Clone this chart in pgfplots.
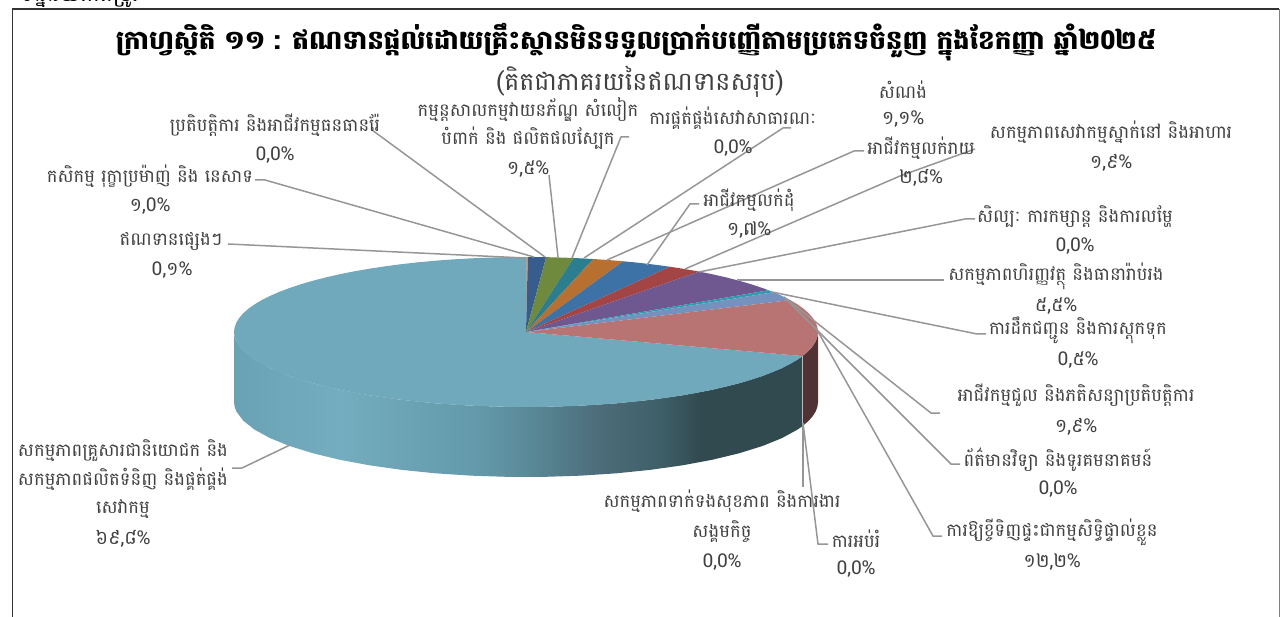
\documentclass[border=0pt]{standalone}
\usepackage{pgfplots}
\pgfplotsset{compat=1.18}
\usepackage{fontspec}
\newfontfamily\khfont[Script=Khmer]{Battambang}
\definecolor{wA}{HTML}{69A2B5}
\definecolor{wB}{HTML}{74ADBF}
\definecolor{wC}{HTML}{6399A9}
\definecolor{wD}{HTML}{5A8A99}
\definecolor{wE}{HTML}{4C6C7A}
\definecolor{wF}{HTML}{3F5F68}
\definecolor{wG}{HTML}{314A50}
\definecolor{wRed}{HTML}{513234}
\definecolor{cOther}{HTML}{C89A77}
\definecolor{cAgri}{HTML}{365D8D}
\definecolor{cManu}{HTML}{6F8A3C}
\definecolor{cCons}{HTML}{2A7E8F}
\definecolor{cWhol}{HTML}{B7702F}
\definecolor{cRet}{HTML}{3D72A6}
\definecolor{cHosp}{HTML}{A34545}
\definecolor{cFin}{HTML}{6F578F}
\definecolor{cTrans}{HTML}{2F9BB0}
\definecolor{cProf}{HTML}{7492BD}
\definecolor{cHous}{HTML}{B87373}
\definecolor{cHH}{HTML}{70A9BC}
\definecolor{leadc}{HTML}{969696}
\definecolor{labc}{HTML}{404040}
\pgfdeclarehorizontalshading{wallshade}{100bp}{color(0bp)=(wA); color(25bp)=(wA); color(34.3bp)=(wB); color(46.6bp)=(wC); color(50.7bp)=(wD); color(57.2bp)=(wE); color(62.4bp)=(wF); color(66bp)=(wG); color(100bp)=(wG)}
\newcommand{\slicetop}[2]{\addplot[fill=#1,draw=none,forget plot] table[row sep=\\,x expr={526+292*\thisrow{r}*sin(3.6*\thisrow{p})},y expr={332-75*\thisrow{r}*cos(3.6*\thisrow{p})}] {p r\\ #2};}
\newcommand{\lead}[1]{\addplot[color=leadc,line width=1.5pt,forget plot] coordinates {#1};}
\newcommand{\lab}[3]{\node[text=labc,font=\khfont\fontsize{18}{19}\selectfont,inner sep=0pt,anchor=center,yshift=-1.5pt] at (axis cs:#1,#2) {#3};}
\newcommand{\labn}[3]{\node[text=labc,font=\khfont\fontsize{19}{20}\selectfont,inner sep=0pt,anchor=center,yshift=-1.5pt] at (axis cs:#1,#2) {#3};}
\begin{document}
\begin{tikzpicture}
\begin{axis}[scale only axis,width=1282pt,height=617pt,xmin=0,xmax=1282,ymin=0,ymax=617,y dir=reverse,hide axis,clip=false]
\path[use as bounding box] (axis cs:0,0) rectangle (axis cs:1282,617);
% clipped line above the frame
\begin{scope}
\clip (axis cs:0,0) rectangle (axis cs:200,7);
\node[text=black,font=\khfont\fontsize{22}{23}\selectfont,inner sep=0pt,anchor=base] at (axis cs:80,2) {ទិន្នន័យកែតម្រូវ};
\end{scope}
% frame
\draw[color=black!80,line width=1.8pt] (axis cs:12.5,617) -- (axis cs:12.5,9) -- (axis cs:1279,9);
\draw[color=black!50,line width=0.8pt] (axis cs:1279,9) -- (axis cs:1279,617);
% side walls
\addplot[shading=wallshade,draw=none,forget plot] table[row sep=\\,x expr={526+292*sin(3.6*\thisrow{p})},y expr={332-75*cos(3.6*\thisrow{p})+\thisrow{d}}] {p d\\
30.2 0\\31 0\\33 0\\35 0\\37 0\\39 0\\41 0\\43 0\\45 0\\47 0\\49 0\\50 0\\51 0\\53 0\\55 0\\57 0\\59 0\\61 0\\63 0\\65 0\\67 0\\69 0\\71 0\\73 0\\74 0\\75 0\\
75 70\\74 70\\73 70\\71 70\\69 70\\67 70\\65 70\\63 70\\61 70\\59 70\\57 70\\55 70\\53 70\\51 70\\50 70\\49 70\\47 70\\45 70\\43 70\\41 70\\39 70\\37 70\\35 70\\33 70\\31 70\\30.2 70\\};
\addplot[fill=wRed,draw=none,forget plot] table[row sep=\\,x expr={526+292*sin(3.6*\thisrow{p})},y expr={332-75*cos(3.6*\thisrow{p})+\thisrow{d}}] {p d\\
25 0\\26 0\\27 0\\28 0\\29 0\\30.2 0\\30.2 70\\29 70\\28 70\\27 70\\26 70\\25 70\\};
% top faces
\slicetop{cHH}{0 0\\30.2 1\\31 1\\32 1\\33 1\\34 1\\35 1\\36 1\\37 1\\38 1\\39 1\\40 1\\41 1\\42 1\\43 1\\44 1\\45 1\\46 1\\47 1\\48 1\\49 1\\50 1\\51 1\\52 1\\53 1\\54 1\\55 1\\56 1\\57 1\\58 1\\59 1\\60 1\\61 1\\62 1\\63 1\\64 1\\65 1\\66 1\\67 1\\68 1\\69 1\\70 1\\71 1\\72 1\\73 1\\74 1\\75 1\\76 1\\77 1\\78 1\\79 1\\80 1\\81 1\\82 1\\83 1\\84 1\\85 1\\86 1\\87 1\\88 1\\89 1\\90 1\\91 1\\92 1\\93 1\\94 1\\95 1\\96 1\\97 1\\98 1\\99 1\\100 1\\}
\slicetop{cOther}{0 0\\0 1\\0.1 1\\}
\slicetop{cAgri}{0 0\\0.1 1\\0.6 1\\1.1 1\\}
\slicetop{cManu}{0 0\\1.1 1\\1.6 1\\2.1 1\\2.6 1\\}
\slicetop{cCons}{0 0\\2.6 1\\3.1 1\\3.7 1\\}
\slicetop{cWhol}{0 0\\3.7 1\\4.2 1\\4.8 1\\5.4 1\\}
\slicetop{cRet}{0 0\\5.4 1\\6 1\\6.5 1\\7 1\\7.5 1\\8.2 1\\}
\slicetop{cHosp}{0 0\\8.2 1\\8.8 1\\9.4 1\\10.1 1\\}
\slicetop{cFin}{0 0\\10.1 1\\11 1\\12 1\\13 1\\14 1\\15 1\\15.6 1\\}
\slicetop{cTrans}{0 0\\15.6 1\\15.85 1\\16.1 1\\}
\slicetop{cProf}{0 0\\16.1 1\\16.6 1\\17 1\\17.5 1\\18 1\\}
\slicetop{cHous}{0 0\\18 1\\19 1\\20 1\\21 1\\22 1\\23 1\\24 1\\25 1\\26 1\\27 1\\28 1\\29 1\\30.2 1\\}
% leader lines
\lead{(228,244)(525,258)}
\lead{(255,180)(265,180)(534,257)}
\lead{(372,130)(545,257)}
\lead{(629,137)(621,137)(572,258)}
\lead{(549,175)(558,257)}
\lead{(791,128)(783,128)(584,258)}
\lead{(864,151)(854,151)(607,260)}
\lead{(699,204)(690,204)(647,265)}
\lead{(975,149)(900,176)(685,269)}
\lead{(975,219)(965,219)(699,272)}
\lead{(944,280)(737,280)}
\lead{(986,334)(977,334)(772,292)}
\lead{(940,413)(931,413)(784,297)}
\lead{(960,464)(951,464)(787,300)}
\lead{(942,536)(933,536)(816,328)}
\lead{(828,544)(818,544)(803,423)}
\lead{(803,423)(803,487)}
\lead{(232,468)(242,468)(290,445)}
% title
\node[text=black,font=\khfont\bfseries\fontsize{26.2}{27}\selectfont,inner sep=0pt] at (axis cs:636,42) {ក្រាហ្វស្ថិតិ ១១ : ឥណទានផ្តល់ដោយគ្រឹះស្ថានមិនទទួលប្រាក់បញ្ញើតាមប្រភេទចំនួញ ក្នុងខែកញ្ញា ឆ្នាំ២0២៥};
\node[text=labc,font=\khfont\fontsize{25.3}{26}\selectfont,inner sep=0pt] at (axis cs:640,82) {(គិតជាភាគរយនៃឥណទានសរុប)};
% labels
\lab{171}{240}{ឥណទានផ្សេងៗ}\labn{172}{269}{0,១\%}
\lab{150}{175}{កសិកម្ម រុក្ខាប្រម៉ាញ់ និង នេសាទ}\labn{150}{205}{១,0\%}
\lab{275}{124}{ប្រតិបត្តិការ និងអាជីវកម្មធនធានរ៉ែ}\labn{275}{154}{0,0\%}
\lab{528}{108}{កម្មន្តសាលកម្មវាយនភ័ណ្ឌ សំលៀក}\lab{528}{137}{បំពាក់ និង ផលិតផលស្បែក}\labn{528}{168}{១,៥\%}
\lab{733}{117}{ការផ្គត់ផ្គង់សេវាសាធារណៈ}\labn{733}{147}{0,0\%}
\lab{903}{88}{សំណង់}\labn{903}{118}{១,១\%}
\lab{921}{147}{អាជីវកម្មលក់រាយ}\labn{921}{176}{២,៨\%}
\lab{1111}{131}{សកម្មភាពសេវាកម្មស្នាក់នៅ និងអាហារ}\labn{1111}{161}{១,៩\%}
\lab{749}{199}{អាជីវកម្មលក់ដុំ}\labn{749}{229}{១,៧\%}
\lab{1075}{215}{សិល្បៈ ការកម្សាន្ត និងការលម្ហែ}\labn{1075}{245}{0,0\%}
\lab{1056}{275}{សកម្មភាពហិរញ្ញវត្ថុ និងធានារ៉ាប់រង}\labn{1056}{305}{៥,៥\%}
\lab{1078}{329}{ការដឹកជញ្ជូន និងការស្តុកទុក}\labn{1078}{359}{0,៥\%}
\lab{1076}{394}{អាជីវកម្មជួល និងភតិសន្យាប្រតិបត្តិការ}\labn{1076}{425}{១,៩\%}
\lab{1058}{458}{ព័ត៌មានវិទ្យា និងទូរគមនាគមន៍}\labn{1058}{488}{0,0\%}
\lab{1052}{531}{ការឱ្យខ្ចីទិញផ្ទះជាកម្មសិទ្ធិផ្ទាល់ខ្លួន}\labn{1052}{561}{១២,២\%}
\lab{722}{500}{សកម្មភាពទាក់ទងសុខភាព និងការងារ}\lab{722}{530}{សង្គមកិច្ច}\labn{722}{561}{0,0\%}
\lab{856}{537}{ការអប់រំ}\labn{856}{568}{0,0\%}
\lab{123}{449}{សកម្មភាពគ្រួសារជានិយោជក និង}\lab{123}{478}{សកម្មភាពផលិតទំនិញ និងផ្គត់ផ្គង់}\lab{123}{508}{សេវាកម្ម}\labn{123}{537}{៦៩,៨\%}
\end{axis}
\end{tikzpicture}
\end{document}
